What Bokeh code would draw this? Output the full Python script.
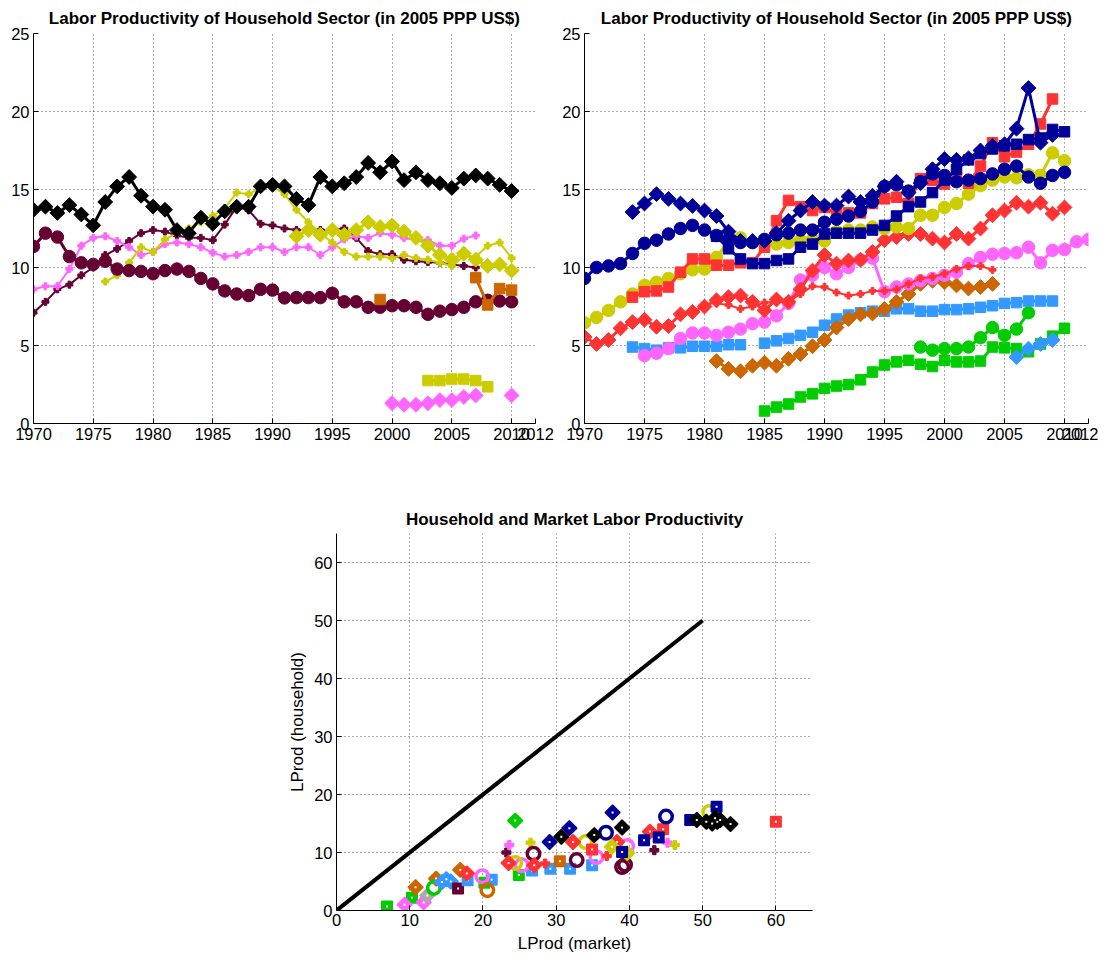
import math
import numpy as np
from bokeh.plotting import figure
from bokeh.layouts import column, row
from bokeh.models import FixedTicker, Range1d, Spacer
from bokeh.embed import file_html
from bokeh.resources import INLINE

NAN = float("nan")
FONT = "Liberation Sans"

# ---------------- colours ----------------
BLACK = "#000000"
MAROON = "#660033"
MAGENTA = "#FF66FF"
YELLOW = "#CCCC00"
ORANGE = "#CC6600"
DBLUE = "#000099"
RED = "#FF3333"
LBLUE = "#3399FF"
GREEN = "#00CC00"
GREY = "#AAAAAA"

# ---------------- axis ticks ----------------
year_ticks = [1970, 1975, 1980, 1985, 1990, 1995, 2000, 2005, 2010, 2012]
lp_ticks = [0, 5, 10, 15, 20, 25]
sc_ticks = [0, 10, 20, 30, 40, 50, 60]

title_top = "Labor Productivity of Household Sector (in 2005 PPP US$)"
title_bottom = "Household and Market Labor Productivity"
xlabel_bottom = "LProd (market)"
ylabel_bottom = "LProd (household)"

# ---------------- top-left panel (start year, values) ----------------
tl_black_d_start = 1970
tl_black_d = [13.7, 13.9, 13.5, 14.0, 13.4, 12.7, 14.2, 15.2, 15.8, 14.6, 13.9, 13.7, 12.4, 12.2,
              13.2, 12.8, 13.6, 13.9, 13.9, 15.2, 15.3, 15.2, 14.4, 14.0, 15.8, 15.2, 15.4, 15.8,
              16.7, 16.1, 16.8, 15.6, 16.1, 15.6, 15.4, 15.1, 15.7, 15.9, 15.7, 15.3, 14.9]
tl_yellow_p_start = 1976
tl_yellow_p = [9.1, 9.5, 10.3, 11.3, 11.0, 11.8, 12.2, 12.5, 12.9, 13.3, 13.8, 14.8, 14.7, 15.1,
               15.2, 14.7, 13.7, 12.9, 12.2, 11.6, 11.0, 10.7, 10.7, 10.7, 10.6, 10.8, 10.6, 10.5,
               10.3, 10.1, 10.7, 10.7, 11.4, 11.6, 10.6]
tl_yellow_d_start = 1992
tl_yellow_d = [12.0, 12.4, 12.1, 12.4, 12.1, 12.4, 12.9, 12.6, 12.7, 12.3, 11.9, 11.4, 10.8, 10.5,
               10.9, 10.5, 10.1, 10.2, 9.8]
tl_yellow_s_start = 2003
tl_yellow_s = [2.75, 2.75, 2.85, 2.85, 2.75, 2.35]
tl_magenta_d_start = 2000
tl_magenta_d = [1.3, 1.2, 1.2, 1.3, 1.5, 1.5, 1.7, 1.8, NAN, NAN, 1.8]
tl_magenta_p_start = 1970
tl_magenta_p = [8.6, 8.8, 8.8, 9.9, 11.4, 11.9, 12.0, 11.7, 11.3, 10.8, 11.0, 11.5, 11.6, 11.5,
                11.3, 10.95, 10.7, 10.8, 11.0, 11.3, 11.3, 11.0, 11.3, 11.3, 10.8, 11.3, 11.8,
                12.0, 11.9, 12.2, 12.1, 11.9, 11.75, 11.75, 11.4, 11.4, 11.85, 12.05]
tl_maroon_p_start = 1970
tl_maroon_p = [7.1, 7.8, 8.6, 8.9, 9.5, 10.0, 10.8, 11.2, 11.7, 12.2, 12.4, 12.3, 12.05, 11.9,
               11.9, 11.75, 12.75, 13.9, 13.67, 12.8, 12.7, 12.5, 12.4, 12.4, 12.4, 12.4, 12.5,
               11.9, 11.05, 10.85, 10.85, 10.5, 10.4, 10.35, 10.3, 10.2, 10.1, 10.0]
tl_maroon_o_start = 1970
tl_maroon_o = [11.35, 12.2, 11.95, 10.7, 10.3, 10.2, 10.4, 9.9, 9.8, 9.75, 9.6, 9.8, 9.9, 9.75,
               9.3, 8.95, 8.5, 8.3, 8.2, 8.6, 8.55, 8.05, 8.07, 8.07, 8.07, 8.35, 7.8, 7.8, 7.45,
               7.45, 7.55, 7.55, 7.45, 7.0, 7.2, 7.3, 7.45, 7.8, 7.9, 7.85, 7.8]
tl_orange_s_start = 1999
tl_orange_s = [7.95, NAN, NAN, NAN, NAN, NAN, NAN, NAN, 9.35, 7.6, 8.65, 8.55]

# ---------------- top-right panel ----------------
tr_dblue_d_start = 1974
tr_dblue_d = [13.55, 14.1, 14.7, 14.4, 14.1, 13.95, 13.65, 13.3, 12.3, 11.7, 11.7, 11.7, 12.2,
              13.0, 13.65, 14.2, 13.97, 13.97, 14.55, 14.2, 14.6, 15.2, 15.5, 14.8, 15.4, 16.3,
              16.95, 16.9, 17.0, 17.5, 17.8, 17.9, 18.9, 21.5, 18.0, 18.5]
tr_dblue_o_start = 1970
tr_dblue_o = [9.3, 10.0, 10.1, 10.25, 10.9, 11.55, 11.75, 12.15, 12.5, 12.7, 12.4, 12.05, 11.8,
              11.6, 11.6, 11.8, 12.1, 12.2, 12.4, 12.4, 12.9, 13.1, 13.3, 13.6, 14.2, 15.2, 15.3,
              14.9, 15.5, 16.0, 15.9, 15.5, 15.6, 15.7, 16.0, 16.3, 16.5, 15.8, 15.4, 15.9, 16.1]
tr_dblue_s_start = 1981
tr_dblue_s = [12.0, 11.2, 10.55, 10.25, 10.25, 10.45, 10.55, 11.3, 11.5, 12.15, 12.2, 12.2, 12.2,
              12.4, 12.7, 13.3, 13.9, 14.2, 14.8, 15.6, 16.3, 16.9, 17.3, 17.6, 17.8, 17.9, 18.2,
              18.3, 18.85, 18.7]
tr_red_s_start = 1974
tr_red_s = [8.1, 8.45, 8.5, 8.75, 9.7, 10.55, 10.55, 10.15, 10.15, 10.3, 10.3, 11.3, 13.0, 14.3,
            13.9, 13.65, 13.85, 13.45, 13.5, 13.5, 14.1, 14.4, 14.5, 14.1, 15.7, 15.6, 15.35,
            15.8, 15.4, 16.5, 18.0, 17.1, 17.4, 17.9, 19.2, 20.8]
tr_yellow_o_start = 1970
tr_yellow_o = [6.45, 6.8, 7.25, 7.8, 8.3, 8.85, 9.05, 9.3, 9.6, 9.85, 9.9, 10.65, 11.7, 11.9,
               11.6, 11.6, 11.5, 11.6, 11.75, 11.8, 11.7, 12.3, 12.4, 12.4, 12.6, 12.5, 12.6,
               12.5, 13.35, 13.35, 13.85, 14.1, 14.7, 15.25, 15.6, 15.8, 15.75, 15.95, 15.9,
               17.35, 16.85]
tr_red_d_start = 1970
tr_red_d = [5.55, 5.1, 5.35, 6.1, 6.5, 6.65, 6.2, 6.25, 7.0, 7.15, 7.5, 7.9, 8.1, 8.2, 7.8, 7.25,
            7.95, 7.8, 8.6, 9.8, 10.8, 10.25, 10.45, 10.5, 11.0, 11.75, 11.95, 12.15, 12.15,
            11.85, 11.6, 12.15, 11.85, 12.5, 13.35, 13.65, 14.15, 13.9, 14.15, 13.45, 13.85]
tr_red_p_start = 1981
tr_red_p = [7.7, 7.6, 7.35, 7.5, 7.75, 7.8, 7.8, 8.3, 8.8, 8.75, 8.4, 8.2, 8.3, 8.5, 8.5, 8.6,
            8.95, 9.3, 9.4, 9.6, 9.9, 10.1, 10.1, 9.85]
tr_magenta_o_start = 1975
tr_magenta_o = [4.35, 4.5, 4.8, 5.45, 5.8, 5.8, 5.65, 5.85, 6.05, 6.4, 6.5, 6.9, 7.7, 9.2, 9.5,
                10.0, 9.6, 10.0, 10.5, 10.6, 8.45, 8.75, 8.95, 9.15, 9.3, 9.5, 9.7, 10.25, 10.65,
                10.85, 10.9, 10.95, 11.3, 10.3, 11.1, 11.15, 11.65, 11.8]
tr_orange_d_start = 1981
tr_orange_d = [4.0, 3.5, 3.35, 3.7, 3.9, 3.7, 4.15, 4.45, 4.95, 5.35, 6.15, 6.7, 7.0, 7.05, 7.35,
               7.8, 8.3, 8.95, 9.15, 9.05, 8.85, 8.65, 8.75, 8.95]
tr_lblue_s_start = 1974
tr_lblue_s = [4.9, 4.8, 4.7, 4.85, 4.85, 4.95, 4.95, 4.95, 5.05, 5.05, NAN, 5.15, 5.3, 5.45, 5.65,
              5.85, 6.3, 6.7, 6.95, 7.1, 7.2, 7.2, 7.35, 7.35, 7.2, 7.2, 7.3, 7.3, 7.35, 7.45,
              7.55, 7.7, 7.75, 7.85, 7.85, 7.85]
tr_green_s_start = 1985
tr_green_s = [0.8, 1.05, 1.25, 1.7, 1.9, 2.25, 2.4, 2.5, 2.8, 3.3, 3.75, 3.95, 4.05, 3.8, 3.65,
              4.05, 3.95, 3.95, 4.0, 4.9, 4.85, 4.8, 4.6, 5.1, 5.6, 6.1]
tr_green_o_start = 1998
tr_green_o = [4.9, 4.7, 4.8, 4.8, 4.9, 5.5, 6.15, 5.65, 6.05, 7.1]
tr_lblue_d_start = 2006
tr_lblue_d = [4.25, 4.8, 5.1, 5.35]

# ---------------- bottom scatter (market, household) ----------------
diag_x = [0, 50]
diag_y = [0, 50]
sc_green_s_x = [6.9, 10.3, 20.2, 24.9]
sc_green_s_y = [0.7, 2.2, 4.8, 6.1]
sc_magenta_d_x = [9.3, 11.9]
sc_magenta_d_y = [1.0, 1.4]
sc_orange_d_x = [10.8, 13.6, 16.9]
sc_orange_d_y = [4.0, 5.5, 7.0]
sc_grey_d_x = [12.4]
sc_grey_d_y = [2.6]
sc_green_o_x = [13.3]
sc_green_o_y = [3.9]
sc_lblue_d_x = [14.4, 15.0, 15.6]
sc_lblue_d_y = [4.9, 5.4, 5.0]
sc_maroon_s_x = [16.6]
sc_maroon_s_y = [3.8]
sc_red_d_x = [17.8, 23.5, 27.0, 32.3, 38.3, 42.8]
sc_red_d_y = [6.4, 8.2, 7.8, 11.8, 11.8, 13.6]
sc_lblue_s_x = [17.9, 21.2, 26.7, 29.2, 31.9, 34.9]
sc_lblue_s_y = [5.2, 5.3, 6.9, 7.2, 7.2, 7.8]
sc_magenta_o_x = [19.9, 25.3, 35.5, 39.7]
sc_magenta_o_y = [5.9, 7.8, 9.2, 11.1]
sc_orange_o_x = [20.6]
sc_orange_o_y = [3.5]
sc_maroon_p_x = [23.2, 43.4]
sc_maroon_p_y = [10.0, 10.4]
sc_magenta_p_x = [23.6, 45.2]
sc_magenta_p_y = [11.3, 11.7]
sc_yellow_o_x = [24.4, 34.0, 50.9]
sc_yellow_o_y = [8.2, 11.8, 17.0]
sc_green_d_x = [24.4]
sc_green_d_y = [15.5]
sc_yellow_p_x = [26.5, 46.2]
sc_yellow_p_y = [11.7, 11.3]
sc_maroon_o_x = [26.9, 32.8, 39.0, 39.4]
sc_maroon_o_y = [9.8, 8.7, 7.5, 7.9]
sc_red_p_x = [28.5, 36.9]
sc_red_p_y = [8.1, 9.4]
sc_dblue_d_x = [29.1, 31.8, 37.7]
sc_dblue_d_y = [11.8, 14.2, 16.9]
sc_orange_s_x = [30.5]
sc_orange_s_y = [8.5]
sc_black_d_x = [30.7, 35.2, 39.0, 49.2, 50.5, 51.3, 51.7, 52.0, 52.4, 53.8]
sc_black_d_y = [12.7, 13.0, 14.3, 15.6, 15.3, 15.0, 15.9, 15.3, 15.6, 14.9]
sc_red_s_x = [34.9, 44.6, 60.0]
sc_red_s_y = [10.5, 14.0, 15.3]
sc_dblue_o_x = [36.8, 45.0]
sc_dblue_o_y = [13.4, 16.2]
sc_yellow_d_x = [37.6, 39.7]
sc_yellow_d_y = [11.0, 9.9]
sc_dblue_s_x = [39.0, 42.0, 44.0, 48.3, 51.9]
sc_dblue_s_y = [10.1, 12.1, 12.6, 15.6, 17.9]


# ---------------- helpers ----------------
def style_axes(p, xt, yt, title_standoff):
    p.xaxis.ticker = FixedTicker(ticks=xt)
    p.yaxis.ticker = FixedTicker(ticks=yt)
    for ax in (p.xaxis[0], p.yaxis[0]):
        ax.major_label_text_font = FONT
        ax.major_label_text_font_size = "16.5px"
        ax.major_label_text_color = "#000000"
        ax.axis_line_color = "#000000"
        ax.axis_line_width = 1
        ax.major_tick_in = 5
        ax.major_tick_out = 0
        ax.major_tick_line_color = "#000000"
        ax.minor_tick_line_color = None
        ax.major_label_standoff = 4
    p.xgrid.ticker = FixedTicker(ticks=xt)
    p.ygrid.ticker = FixedTicker(ticks=yt)
    p.grid.grid_line_color = "#222222"
    p.grid.grid_line_alpha = 0.75
    p.grid.grid_line_dash = "1 3"
    p.grid.grid_line_width = 1
    p.outline_line_color = None
    p.background_fill_color = "white"
    p.border_fill_color = "white"
    p.title.text_font = FONT
    p.title.text_font_size = "17px"
    p.title.text_font_style = "bold"
    p.title.text_color = "#000000"
    p.title.align = "center"
    p.title.standoff = title_standoff


MARKER = {
    "d": dict(marker="square", angle=math.pi / 4),
    "o": dict(marker="circle", angle=0.0),
    "s": dict(marker="square", angle=0.0),
    "p": dict(marker="plus", angle=0.0),
}
SIZE = {"d": 10.5, "o": 12.5, "s": 10.5, "p": 7}


def series(p, start, vals, color, kind, lw=3):
    xs = list(range(start, start + len(vals)))
    p.line(xs, vals, line_color=color, line_width=lw)
    m = MARKER[kind]
    p.scatter(xs, vals, marker=m["marker"], angle=m["angle"], size=SIZE[kind],
              fill_color=color, line_color=color, line_width=1)


def top_fig(left, right, fw):
    p = figure(output_backend="svg", toolbar_location=None,
               frame_width=fw, frame_height=390,
               min_border_left=left, min_border_right=right,
               min_border_top=33, min_border_bottom=30,
               x_range=Range1d(1970, 2012), y_range=Range1d(0, 25),
               title=title_top)
    style_axes(p, year_ticks, lp_ticks, 11)
    return p


# ---------------- top-left ----------------
p1 = top_fig(33, 20, 502)
series(p1, tl_maroon_p_start, tl_maroon_p, MAROON, "p", 2)
series(p1, tl_magenta_p_start, tl_magenta_p, MAGENTA, "p", 2)
series(p1, tl_yellow_p_start, tl_yellow_p, YELLOW, "p", 2)
series(p1, tl_maroon_o_start, tl_maroon_o, MAROON, "o", 3)
series(p1, tl_yellow_d_start, tl_yellow_d, YELLOW, "d", 3)
series(p1, tl_black_d_start, tl_black_d, BLACK, "d", 3)
series(p1, tl_orange_s_start, tl_orange_s, ORANGE, "s", 3)
series(p1, tl_yellow_s_start, tl_yellow_s, YELLOW, "s", 3)
series(p1, tl_magenta_d_start, tl_magenta_d, MAGENTA, "d", 3)

# ---------------- top-right ----------------
p2 = top_fig(29, 10, 504)
series(p2, tr_green_s_start, tr_green_s, GREEN, "s", 3)
series(p2, tr_green_o_start, tr_green_o, GREEN, "o", 3)
series(p2, tr_lblue_d_start, tr_lblue_d, LBLUE, "d", 3)
series(p2, tr_lblue_s_start, tr_lblue_s, LBLUE, "s", 3)
series(p2, tr_orange_d_start, tr_orange_d, ORANGE, "d", 3)
series(p2, tr_magenta_o_start, tr_magenta_o, MAGENTA, "o", 3)
series(p2, tr_red_p_start, tr_red_p, RED, "p", 2)
series(p2, tr_red_d_start, tr_red_d, RED, "d", 3)
series(p2, tr_yellow_o_start, tr_yellow_o, YELLOW, "o", 3)
series(p2, tr_red_s_start, tr_red_s, RED, "s", 3)
series(p2, tr_dblue_s_start, tr_dblue_s, DBLUE, "s", 3)
series(p2, tr_dblue_o_start, tr_dblue_o, DBLUE, "o", 3)
series(p2, tr_dblue_d_start, tr_dblue_d, DBLUE, "d", 3)

# ---------------- bottom scatter ----------------
p3 = figure(output_backend="svg", toolbar_location=None,
            frame_width=476, frame_height=377,
            min_border_left=60, min_border_right=10,
            min_border_top=80, min_border_bottom=40,
            x_range=Range1d(0, 65), y_range=Range1d(0, 65),
            title=title_bottom)
style_axes(p3, sc_ticks, sc_ticks, 10)
p3.xaxis.axis_label = xlabel_bottom
p3.yaxis.axis_label = ylabel_bottom
for ax in (p3.xaxis[0], p3.yaxis[0]):
    ax.axis_label_text_font = FONT
    ax.axis_label_text_font_size = "17px"
    ax.axis_label_text_font_style = "normal"
    ax.axis_label_text_color = "#000000"
p3.xaxis.axis_label_standoff = 5
p3.xaxis.major_label_standoff = 3
p3.yaxis.axis_label_standoff = 4

p3.line(diag_x, diag_y, line_color=BLACK, line_width=4)


def pts(xs, ys, color, kind):
    m = MARKER[kind]
    if kind == "o":
        p3.scatter(xs, ys, marker="circle", size=12.5, fill_color=None,
                   line_color=color, line_width=3.5)
    elif kind == "p":
        p3.scatter(xs, ys, marker="plus", size=9, fill_color=color,
                   line_color=color, line_width=1)
    else:
        p3.scatter(xs, ys, marker=m["marker"], angle=m["angle"],
                   size=10.5, fill_color=color,
                   line_color=color, line_width=1.5)
        p3.scatter(xs, ys, marker="square", size=2, fill_color="white",
                   line_color=None)


pts(sc_green_s_x, sc_green_s_y, GREEN, "s")
pts(sc_magenta_d_x, sc_magenta_d_y, MAGENTA, "d")
pts(sc_orange_d_x, sc_orange_d_y, ORANGE, "d")
pts(sc_grey_d_x, sc_grey_d_y, GREY, "d")
pts(sc_green_o_x, sc_green_o_y, GREEN, "o")
pts(sc_lblue_d_x, sc_lblue_d_y, LBLUE, "d")
pts(sc_maroon_s_x, sc_maroon_s_y, MAROON, "s")
pts(sc_lblue_s_x, sc_lblue_s_y, LBLUE, "s")
pts(sc_magenta_o_x, sc_magenta_o_y, MAGENTA, "o")
pts(sc_orange_o_x, sc_orange_o_y, ORANGE, "o")
pts(sc_maroon_p_x, sc_maroon_p_y, MAROON, "p")
pts(sc_magenta_p_x, sc_magenta_p_y, MAGENTA, "p")
pts(sc_yellow_o_x, sc_yellow_o_y, YELLOW, "o")
pts(sc_yellow_p_x, sc_yellow_p_y, YELLOW, "p")
pts(sc_maroon_o_x, sc_maroon_o_y, MAROON, "o")
pts(sc_red_p_x, sc_red_p_y, RED, "p")
pts(sc_orange_s_x, sc_orange_s_y, ORANGE, "s")
pts(sc_red_d_x, sc_red_d_y, RED, "d")
pts(sc_green_d_x, sc_green_d_y, GREEN, "d")
pts(sc_dblue_d_x, sc_dblue_d_y, DBLUE, "d")
pts(sc_red_s_x, sc_red_s_y, RED, "s")
pts(sc_dblue_o_x, sc_dblue_o_y, DBLUE, "o")
pts(sc_yellow_d_x, sc_yellow_d_y, YELLOW, "d")
pts(sc_dblue_s_x, sc_dblue_s_y, DBLUE, "s")
pts(sc_black_d_x, sc_black_d_y, BLACK, "d")

layout = column(row(p1, p2), row(Spacer(width=276, height=10), p3))
open("out.html", "w").write(file_html(layout, INLINE))
